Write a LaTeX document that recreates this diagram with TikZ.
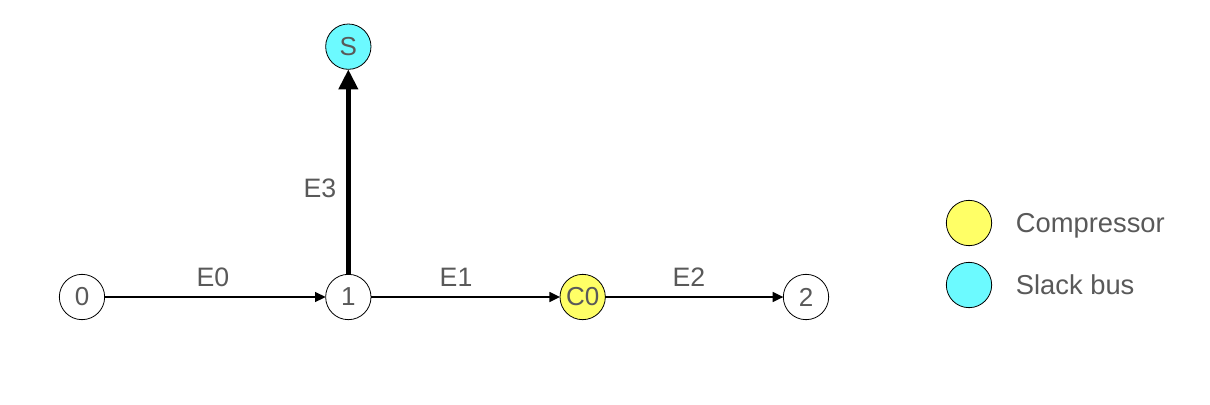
\documentclass[tikz,border=0pt]{standalone}
\usepackage{fontspec}
\setmainfont{Liberation Sans}
\usepackage{tikz}
\usetikzlibrary{arrows.meta, calc, positioning}
\definecolor{labelgray}{RGB}{89,89,89}
\definecolor{compyellow}{RGB}{255,255,102}
\definecolor{slackcyan}{RGB}{108,250,255}
\tikzstyle{bus} = [circle, draw=black, line width=0.6pt, minimum size=34pt, inner sep=0pt, outer sep=0pt, text=labelgray, font=\fontsize{19.5}{22}\selectfont]
\tikzstyle{compressor} = [bus, fill=compyellow]
\tikzstyle{slack} = [bus, fill=slackcyan]
\tikzstyle{edgelabel} = [text=labelgray, font=\fontsize{20}{22}\selectfont]
\tikzstyle{legendtext} = [text=labelgray, font=\fontsize{20.5}{24}\selectfont, inner sep=0pt]
\tikzstyle{arrow} = [line width=1.1pt,-{Triangle[length=8pt,width=7.5pt]}]
\tikzstyle{thickarrow} = [line width=3.6pt,-{Triangle[length=15pt,width=14pt]}]
\begin{document}
\begin{tikzpicture}[node distance = 5mm, auto]
		\useasboundingbox (0pt,0pt) rectangle (907.5pt,-303pt);
		\node (Bus0) [bus] at (61.5pt,-222.75pt) {0};
		\node (Bus1) [bus, right = 165.75pt of Bus0] {1};
		\node (Comp0) [compressor, right = 141.75pt of Bus1] {C0};
		\node (Bus2) [bus, right = 133.5pt of Comp0] {2};
		\node (Slack) [slack, above = 153.75pt of Bus1] {S};

		% legend
		\node (LegendComp) [compressor] at (726.75pt,-167.25pt) {};
		\node (LegendSlack) [slack] at (726.75pt,-213.75pt) {};
		\node (LegendCompText) [legendtext, right = 18pt of LegendComp, yshift=-2pt] {Compressor};
		\node (LegendSlackText) [legendtext, right = 18pt of LegendSlack] {Slack bus};

		\draw [arrow] (Bus0) -- node[edgelabel, above=4pt, pos=0.49]{E0} (Bus1);
		\draw [arrow] (Bus1) -- node[edgelabel, above=4pt, pos=0.45]{E1} (Comp0);
		\draw [arrow] (Comp0) -- node[edgelabel, above=4pt, pos=0.47]{E2} (Bus2);
		\draw [thickarrow] (Bus1) -- node[edgelabel, left=4pt, pos=0.42]{E3} (Slack);
	\end{tikzpicture}
\end{document}
